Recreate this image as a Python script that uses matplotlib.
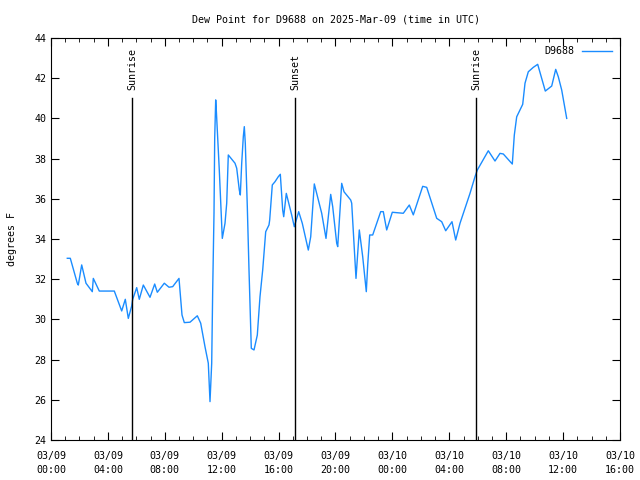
import matplotlib
matplotlib.use("Agg")
import matplotlib.pyplot as plt
import matplotlib.dates as mdates
import pandas as pd

# hours after 2025-03-09 00:00 UTC
hours = [1.146, 1.357, 1.849, 1.919, 2.158, 2.460, 2.903, 2.974, 3.395, 4.450,
         4.970, 5.223, 5.434, 5.673, 5.743, 6.025, 6.207, 6.489, 6.960, 7.290,
         7.473, 7.965, 8.295, 8.555, 8.998, 9.209, 9.371, 9.772, 10.285, 10.524,
         10.826, 11.058, 11.178, 11.297, 11.367, 11.459, 11.508, 11.578, 11.620, 11.691,
         11.831, 11.951, 12.042, 12.232, 12.352, 12.464, 12.935, 13.055, 13.237, 13.308,
         13.406, 13.519, 13.589, 13.659, 13.800, 13.919, 13.990, 14.081, 14.271, 14.503,
         14.692, 14.882, 15.093, 15.325, 15.374, 15.557, 15.747, 15.979, 16.120, 16.288,
         16.359, 16.541, 16.921, 17.104, 17.413, 17.666, 18.088, 18.257, 18.510, 18.679,
         19.030, 19.332, 19.663, 19.803, 20.084, 20.155, 20.436, 20.598, 21.069, 21.139,
         21.441, 21.673, 21.912, 22.165, 22.264, 22.404, 22.615, 23.178, 23.360, 23.599,
         23.993, 24.766, 25.188, 25.469, 26.130, 26.411, 27.114, 27.466, 27.747, 28.190,
         28.450, 28.752, 29.455, 29.807, 29.969, 30.742, 31.213, 31.564, 31.796, 32.429,
         32.570, 32.738, 33.160, 33.322, 33.554, 33.905, 34.214, 34.749, 35.199, 35.480,
         35.663, 35.902, 36.254]
dewpoint = [33.04, 33.04, 31.80, 31.71, 32.71, 31.80, 31.38, 32.04, 31.41, 31.41,
            30.42, 31.00, 30.05, 30.67, 31.00, 31.58, 31.00, 31.71, 31.10, 31.76,
            31.35, 31.80, 31.60, 31.63, 32.04, 30.22, 29.84, 29.86, 30.18, 29.81,
            28.64, 27.82, 25.91, 27.82, 31.46, 35.28, 39.01, 40.92, 40.42, 39.42,
            37.43, 35.53, 34.03, 34.78, 35.78, 38.18, 37.77, 37.52, 36.44, 36.19,
            37.77, 39.09, 39.59, 38.76, 35.61, 32.46, 30.80, 28.56, 28.48, 29.22,
            31.13, 32.46, 34.36, 34.70, 34.95, 36.69, 36.85, 37.10, 37.22, 35.44,
            35.11, 36.27, 35.19, 34.61, 35.36, 34.78, 33.45, 34.11, 36.74, 36.27,
            35.28, 34.03, 36.22, 35.61, 33.79, 33.62, 36.77, 36.35, 35.94, 35.78,
            32.04, 34.45, 33.12, 31.38, 32.71, 34.20, 34.20, 35.36, 35.36, 34.45,
            35.33, 35.28, 35.69, 35.20, 36.62, 36.57, 35.03, 34.86, 34.41, 34.86,
            33.95, 34.78, 36.27, 37.10, 37.43, 38.39, 37.88, 38.26, 38.23, 37.73,
            39.17, 40.08, 40.70, 41.75, 42.32, 42.54, 42.69, 41.36, 41.61, 42.44,
            42.07, 41.41, 40.00]

event_labels = ["Sunrise", "Sunset", "Sunrise"]
event_hours = [5.69, 17.15, 29.88]

start = pd.Timestamp("2025-03-09 00:00")
times = [start + pd.Timedelta(hours=h) for h in hours]
ev_times = [start + pd.Timedelta(hours=h) for h in event_hours]

plt.rcParams['font.family'] = ['DejaVu Sans Mono', 'DejaVu Sans']
FS = 7.2
fig = plt.figure(figsize=(6.4, 4.8), dpi=100)
ax = fig.add_axes([51/640, 40/480, 569/640, 402/480])

ax.plot(times, dewpoint, color='#1a8cff', lw=1.0, label='D9688')

for t, lab in zip(ev_times, event_labels):
    ax.plot([t, t], [41, 24], color='black', lw=1.0)
    ax.text(t, 41.4, lab, rotation=90, ha='center', va='bottom', fontsize=FS)

ax.set_xlim(start, start + pd.Timedelta(hours=40))
ax.set_ylim(24, 44)
ax.set_yticks(range(24, 45, 2))
ax.xaxis.set_major_locator(mdates.HourLocator(byhour=[0, 4, 8, 12, 16, 20]))
ax.xaxis.set_minor_locator(mdates.HourLocator())
ax.xaxis.set_major_formatter(mdates.DateFormatter('%m/%d\n%H:%M'))
ax.tick_params(which='both', direction='in', top=True, right=True, labelsize=FS)
ax.tick_params(which='major', length=6)
ax.tick_params(which='minor', length=3)
ax.tick_params(axis='x', pad=8)
for lbl in ax.get_xticklabels():
    lbl.set_linespacing(1.5)

ax.set_title('Dew Point for D9688 on 2025-Mar-09 (time in UTC)', fontsize=FS, pad=11)
ax.set_ylabel('degrees F', fontsize=FS, labelpad=12)

leg = ax.legend(loc='upper right', frameon=False, fontsize=FS, handlelength=3.0,
                handletextpad=0.8, markerfirst=False, borderaxespad=0.4)

fig.savefig('out.png', dpi=100)
